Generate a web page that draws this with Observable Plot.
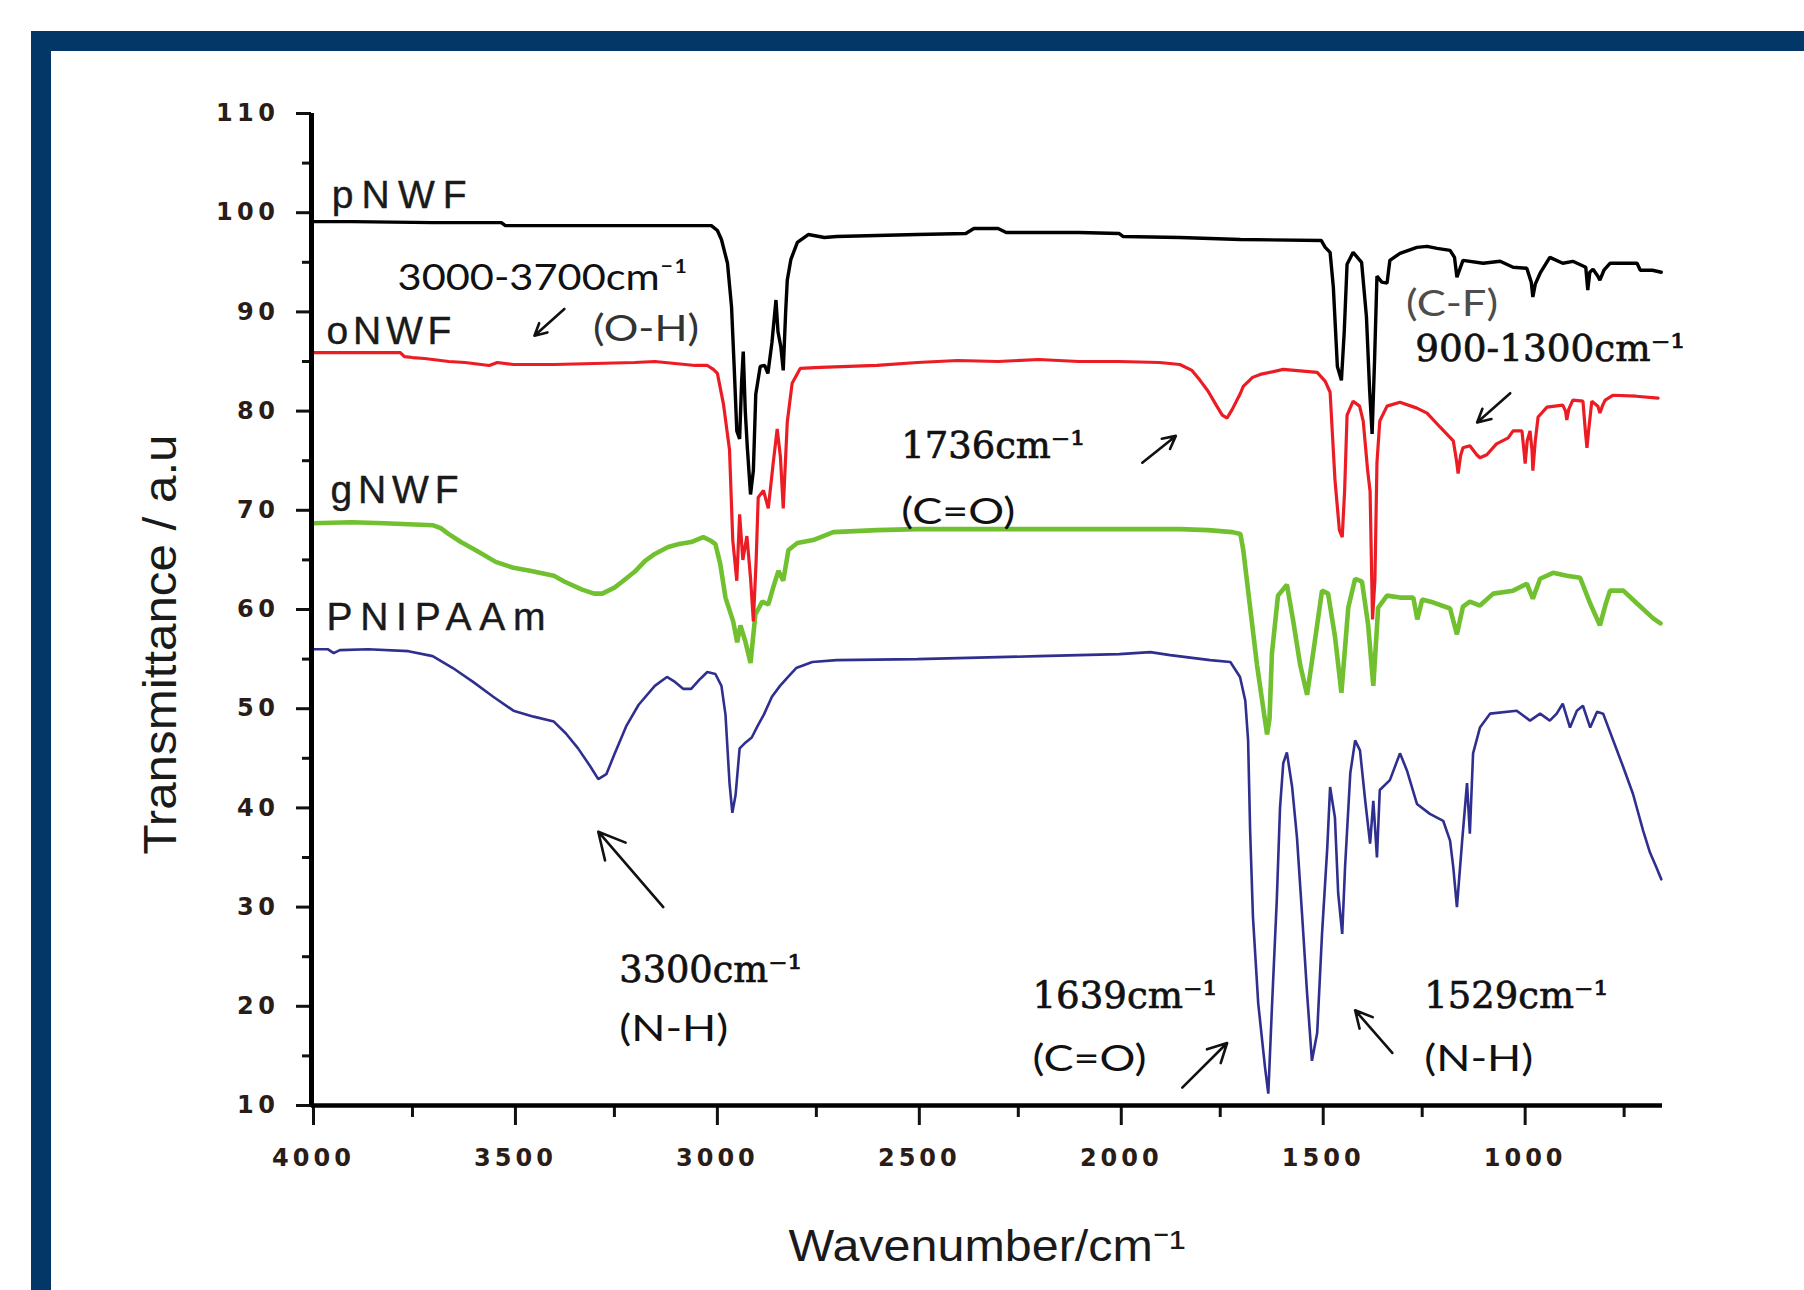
<!DOCTYPE html>
<html><head><meta charset="utf-8">
<script src="https://cdn.jsdelivr.net/npm/d3@7"></script>
<script src="https://cdn.jsdelivr.net/npm/@observablehq/plot@0.6"></script>
<style>
html,body{margin:0;padding:0;background:#fff;}
#wrap{position:relative;width:1804px;height:1290px;overflow:hidden;background:#fff;}
.bar{position:absolute;background:#023768;}
#chart{position:absolute;left:0;top:0;}
</style></head><body>
<div id="wrap">
<div class="bar" style="left:31px;top:31px;width:1773px;height:20px"></div>
<div class="bar" style="left:31px;top:31px;width:20px;height:1259px"></div>
<div id="chart"></div>
</div>
<script>
// ---------- data ----------
const seriesNames = ["pNWF", "oNWF", "gNWF", "PNIPAAm"];

const pNWF = [[4000,99.1],[3900,99.1],[3700,99.0],[3530,99.0],[3520,98.7],[3200,98.7],[3010,98.7],[2995,98.2],[2985,97.3],[2970,94.9],[2960,90.5],[2953,84],[2947,78],[2940,77.2],[2935,83],[2931,86],[2926,80],[2921,76.4],[2913,71.6],[2906,74],[2900,81.7],[2889,84.5],[2878,84.6],[2870,83.8],[2860,86.9],[2850,91.2],[2845,88],[2838,86.5],[2832,84.1],[2826,90],[2822,93.2],[2813,95.3],[2797,97],[2770,97.8],[2730,97.5],[2700,97.6],[2500,97.8],[2380,97.9],[2360,98.4],[2300,98.4],[2280,98.0],[2100,98.0],[2000,97.9],[1990,97.6],[1850,97.5],[1700,97.3],[1500,97.2],[1490,96.5],[1478,96.0],[1470,92.5],[1460,84.5],[1450,83.1],[1443,88],[1436,94.8],[1421,96.0],[1400,95.0],[1388,89.5],[1380,82],[1374,77.7],[1368,85],[1362,93.6],[1350,93],[1337,92.9],[1330,95.2],[1305,95.9],[1263,96.5],[1238,96.6],[1213,96.4],[1181,96.2],[1170,95.5],[1164,93.5],[1149,95.2],[1099,94.9],[1057,95.1],[1025,94.5],[991,94.4],[980,93],[976,91.5],[970,92.8],[958,93.9],[934,95.5],[902,94.9],[877,95.1],[845,94.5],[840,92.2],[835,94.0],[827,94.3],[815,93.6],[810,93.2],[800,94.2],[785,94.9],[718,94.9],[710,94.2],[680,94.2],[658,94.0]];

const oNWF = [[4000,85.9],[3780,85.9],[3770,85.5],[3750,85.4],[3720,85.3],[3700,85.2],[3660,85.0],[3620,84.9],[3560,84.6],[3540,84.9],[3500,84.7],[3400,84.7],[3300,84.8],[3200,84.9],[3150,85.0],[3100,84.8],[3050,84.6],[3020,84.6],[3005,84.2],[2995,83.8],[2980,80.7],[2965,76.1],[2957,67],[2947,62.9],[2940,69.6],[2932,65.0],[2922,67.4],[2913,63.2],[2906,58.8],[2899,65],[2894,71.3],[2881,72.0],[2869,70.2],[2857,74.7],[2847,78.2],[2839,75.4],[2832,70.2],[2822,78.9],[2810,82.8],[2790,84.3],[2740,84.4],[2600,84.6],[2500,84.9],[2400,85.1],[2300,85.0],[2200,85.2],[2100,85.0],[2000,85.0],[1900,84.9],[1850,84.7],[1820,84.1],[1800,83.1],[1780,82.0],[1760,80.6],[1745,79.6],[1733,79.3],[1720,80.2],[1700,81.8],[1693,82.5],[1670,83.4],[1651,83.7],[1594,84.2],[1510,83.9],[1490,83.0],[1478,81.9],[1466,73.1],[1455,68],[1448,67.3],[1442,72],[1436,79.6],[1421,81.0],[1405,80.5],[1396,79.0],[1385,74],[1379,71.9],[1373,59.0],[1367,63],[1362,74.8],[1355,79.0],[1337,80.5],[1305,80.9],[1263,80.3],[1238,79.8],[1206,78.4],[1173,77.0],[1165,75],[1161,73.7],[1155,75.5],[1149,76.3],[1132,76.5],[1115,75.6],[1107,75.3],[1090,75.6],[1066,76.7],[1037,77.3],[1025,78.0],[1003,78.0],[998,76],[995,74.7],[990,77],[983,78.0],[978,76],[976,74.0],[970,77],[963,79.4],[941,80.4],[902,80.6],[895,80],[892,79.1],[887,80.2],[877,81.1],[852,81.0],[846,78],[842,76.3],[838,78],[830,81.0],[815,80.5],[810,79.8],[803,80.6],[797,81.1],[777,81.6],[720,81.5],[666,81.3]];

const gNWF = [[4000,68.7],[3900,68.8],[3820,68.7],[3700,68.5],[3680,68.2],[3660,67.6],[3630,66.8],[3590,65.9],[3544,64.8],[3500,64.2],[3459,63.9],[3400,63.4],[3373,62.8],[3330,62.0],[3300,61.6],[3280,61.6],[3250,62.2],[3231,62.8],[3200,63.8],[3174,64.9],[3150,65.6],[3117,66.3],[3090,66.6],[3060,66.8],[3030,67.3],[3010,66.9],[3000,66.6],[2988,64.6],[2975,61.2],[2956,58.8],[2946,56.7],[2938,58.4],[2926,56.8],[2913,54.6],[2901,59.5],[2884,60.8],[2869,60.5],[2857,62.2],[2844,63.9],[2832,62.9],[2819,66.0],[2797,66.7],[2758,67.0],[2708,67.8],[2600,68.0],[2500,68.1],[2400,68.1],[2200,68.1],[2000,68.1],[1850,68.1],[1780,68.0],[1720,67.8],[1700,67.6],[1693,66.0],[1676,60.2],[1659,54.4],[1644,50.2],[1634,47.4],[1628,49],[1622,55.6],[1607,61.4],[1585,62.5],[1570,59.0],[1552,54.4],[1535,51.4],[1520,55.6],[1498,61.9],[1483,61.6],[1466,57.3],[1450,51.6],[1433,60.2],[1416,63.1],[1399,62.8],[1384,58.5],[1371,52.3],[1359,60.2],[1337,61.4],[1305,61.2],[1272,61.2],[1262,59.0],[1250,61.0],[1222,60.7],[1181,60.1],[1164,57.5],[1149,60.3],[1132,60.8],[1107,60.4],[1074,61.6],[1025,61.9],[991,62.6],[976,61.1],[958,63.1],[926,63.7],[892,63.4],[859,63.2],[834,60.6],[810,58.4],[796,60.5],[785,61.9],[752,61.9],[718,60.6],[678,59.1],[660,58.6]];

const PNIPAAm = [[4000,56.0],[3960,56.0],[3945,55.6],[3930,55.9],[3860,56.0],[3760,55.8],[3700,55.3],[3650,54.1],[3600,52.7],[3550,51.2],[3500,49.8],[3450,49.2],[3400,48.7],[3370,47.5],[3340,46.0],[3310,44.2],[3290,42.9],[3270,43.4],[3250,45.4],[3220,48.3],[3190,50.4],[3150,52.3],[3120,53.2],[3100,52.7],[3080,52.0],[3060,52.0],[3040,52.9],[3020,53.7],[3000,53.5],[2985,52.3],[2975,49.4],[2965,42.5],[2958,39.5],[2950,41.3],[2940,46.0],[2925,46.6],[2910,47.1],[2895,48.3],[2880,49.4],[2860,51.2],[2840,52.3],[2820,53.2],[2800,54.1],[2760,54.7],[2700,54.9],[2500,55.0],[2200,55.3],[2000,55.5],[1923,55.7],[1874,55.4],[1775,54.9],[1725,54.7],[1701,53.2],[1688,50.8],[1681,46.8],[1676,37.7],[1669,29.0],[1656,20.3],[1639,13.8],[1631,11.2],[1622,19.9],[1610,30.7],[1602,40.0],[1594,44.5],[1585,45.6],[1572,42.1],[1560,37.0],[1547,29.0],[1535,21.3],[1523,14.5],[1510,17.3],[1498,27.3],[1485,36.0],[1478,42.1],[1466,39.0],[1458,31.4],[1448,27.3],[1441,34.0],[1428,43.5],[1416,46.8],[1404,45.8],[1391,40.7],[1379,36.4],[1371,40.7],[1362,35.0],[1355,41.8],[1330,42.8],[1305,45.5],[1288,43.8],[1263,40.4],[1231,39.4],[1198,38.7],[1181,36.7],[1173,34.0],[1164,30.0],[1151,36.7],[1139,42.5],[1132,37.4],[1124,45.5],[1107,48.1],[1082,49.5],[1016,49.8],[983,48.8],[958,49.5],[934,48.8],[917,49.5],[902,50.5],[884,48.1],[867,49.8],[852,50.3],[834,48.1],[817,49.7],[802,49.5],[777,46.8],[752,44.1],[728,41.4],[703,37.7],[686,35.5],[670,34.0],[658,32.8]];

const xTicks = [4000, 3500, 3000, 2500, 2000, 1500, 1000];
const xMinorTicks = [3750, 3250, 2750, 2250, 1750, 1250, 750];
const yTicks = [10, 20, 30, 40, 50, 60, 70, 80, 90, 100, 110];
const yMinorTicks = [15, 25, 35, 45, 55, 65, 75, 85, 95, 105];

// series labels (anchor in data coords: wavenumber, transmittance baseline)
const labelWn = [3950, 3963, 3953, 3963];
const labelT = [100.5, 86.8, 70.7, 57.9];

// band annotations
const noteText = ["3000-3700cm⁻¹", "(O-H)", "(C-F)", "900-1300cm⁻¹", "1736cm⁻¹", "(C=O)", "3300cm⁻¹", "(N-H)", "1639cm⁻¹", "(C=O)", "1529cm⁻¹", "(N-H)"];
const noteWn = [3787, 3303, 1290, 1267, 2540, 2540, 3238, 3238, 2215, 2215, 1245, 1245];
const noteT = [92.2, 87.1, 89.6, 85.1, 75.3, 68.6, 22.5, 16.55, 19.8, 13.5, 19.8, 13.5];

// arrows
const arrowWn1 = [3374, 1032, 1943, 3129, 1844, 1324];
const arrowT1 = [90.3, 81.8, 74.8, 30.0, 11.8, 15.3];
const arrowWn2 = [3448, 1114, 1860, 3290, 1733, 1416];
const arrowT2 = [87.6, 78.85, 77.5, 37.6, 16.3, 19.6];

const xTitle = "Wavenumber/cm⁻¹";
const yTitle = "Transmittance / a.u";

// ---------- styles (kept separate from data) ----------
const seriesColors = ["#000000", "#ec1c24", "#70c030", "#2f2f8f"];
const seriesWidths = [3.4, 3.2, 4.6, 2.6];
const labelWidths = [135, 125, 128, 219];
const noteFont = ["sans", "sans", "sans", "serif", "serif", "sans", "serif", "sans", "serif", "sans", "serif", "sans"];
const noteColor = ["#111", "#333", "#4d4d4d", "#111", "#111", "#111", "#111", "#111", "#111", "#111", "#111", "#111"];
const noteWidth = [290, 106, 92, 270, 184, 114, 183, 109, 185, 114, 184, 109];

// ---------- build ----------
const spectra = [pNWF, oNWF, gNWF, PNIPAAm];
const rows = spectra.map((s, i) => s.map(([wn, t]) => ({series: seriesNames[i], wn, t})));
const labels = seriesNames.map((name, i) => ({name, wn: labelWn[i], t: labelT[i], w: labelWidths[i]}));
const notes = noteText.map((text, i) => ({text, wn: noteWn[i], t: noteT[i], font: noteFont[i], color: noteColor[i], w: noteWidth[i]}));
const sansNotes = notes.filter(d => d.font === "sans");
const serifNotes = notes.filter(d => d.font === "serif");
const arrows = arrowWn1.map((_, i) => ({x1: arrowWn1[i], y1: arrowT1[i], x2: arrowWn2[i], y2: arrowT2[i]}));

const drawOrder = [3, 2, 1, 0];

const plot = Plot.plot({
  width: 1804,
  height: 1290,
  marginLeft: 311,
  marginRight: 142,
  marginTop: 113,
  marginBottom: 185,
  style: {fontFamily: "Liberation Sans", background: "transparent", color: "#111", overflow: "visible"},
  x: {domain: [4000, 655]},
  y: {domain: [10, 110]},
  marks: [
    ...drawOrder.map(i => Plot.line(rows[i], {x: "wn", y: "t", stroke: seriesColors[i], strokeWidth: seriesWidths[i], strokeLinejoin: "miter"})),
    Plot.axisY(yMinorTicks, {tickSize: 9, strokeWidth: 3, tickFormat: () => "", label: null}),
    Plot.axisY(yTicks, {tickSize: 15, tickPadding: 17, strokeWidth: 3, fontSize: 24, fontWeight: "bold", fontFamily: "DejaVu Sans", fill: "#2a1c16", tickFormat: d => String(d), label: null}),
    Plot.axisX(xMinorTicks, {tickSize: 12, strokeWidth: 3, tickFormat: () => "", label: null}),
    Plot.axisX(xTicks, {tickSize: 20, tickPadding: 23, strokeWidth: 3, fontSize: 24, fontWeight: "bold", fontFamily: "DejaVu Sans", fill: "#2a1c16", dx: 2, tickFormat: d => String(d), label: null}),
    Plot.ruleY([10], {strokeWidth: 4.5, stroke: "#000"}),
    Plot.ruleX([4000], {strokeWidth: 5, stroke: "#000"}),
    // text marks (order matters for post-processing below)
    Plot.text(labels, {x: "wn", y: "t", text: "name", textAnchor: "start", lineAnchor: "bottom", fontSize: 39, fontFamily: "Liberation Sans", fill: "#1a1a1a", stroke: "#1a1a1a", strokeWidth: 0.4}),
    Plot.text(sansNotes, {x: "wn", y: "t", text: "text", fill: "color", textAnchor: "start", lineAnchor: "bottom", fontSize: 37, fontFamily: "Lato"}),
    Plot.text(serifNotes, {x: "wn", y: "t", text: "text", fill: "color", stroke: "color", strokeWidth: 0.7, textAnchor: "start", lineAnchor: "bottom", fontSize: 38, fontFamily: "DejaVu Serif"}),
    Plot.text([yTitle], {frameAnchor: "left", textAnchor: "middle", lineAnchor: "middle", dx: -150, dy: 35, rotate: -90, fontSize: 46, fontFamily: "Liberation Sans", fill: "#1a1a1a"}),
    Plot.text([xTitle], {frameAnchor: "bottom", textAnchor: "middle", lineAnchor: "bottom", dy: 155, fontSize: 44, fontFamily: "Liberation Sans", fill: "#1a1a1a"}),
    Plot.arrow(arrows, {x1: "x1", y1: "y1", x2: "x2", y2: "y2", stroke: "#111", strokeWidth: 2.6, headLength: 17, headAngle: 55})
  ]
});

document.getElementById("chart").appendChild(plot);

const svg = d3.select(plot);
svg.selectAll('g[aria-label="y-axis tick label"] text').style("letter-spacing", "4.5px");
svg.selectAll('g[aria-label="x-axis tick label"] text').style("letter-spacing", "4px");

const textGroups = svg.selectAll('g[aria-label="text"]').nodes();
function fit(group, widths, adjust) {
  if (!group) return;
  d3.select(group).selectAll("text").each(function(_, i) {
    if (widths[i]) {
      this.setAttribute("textLength", widths[i]);
      this.setAttribute("lengthAdjust", adjust);
    }
  });
}
fit(textGroups[0], labels.map(d => d.w), "spacing");
fit(textGroups[1], sansNotes.map(d => d.w), "spacingAndGlyphs");
fit(textGroups[2], serifNotes.map(d => d.w), "spacingAndGlyphs");
fit(textGroups[3], [420], "spacingAndGlyphs");
fit(textGroups[4], [397], "spacingAndGlyphs");
</script>
</body></html>
